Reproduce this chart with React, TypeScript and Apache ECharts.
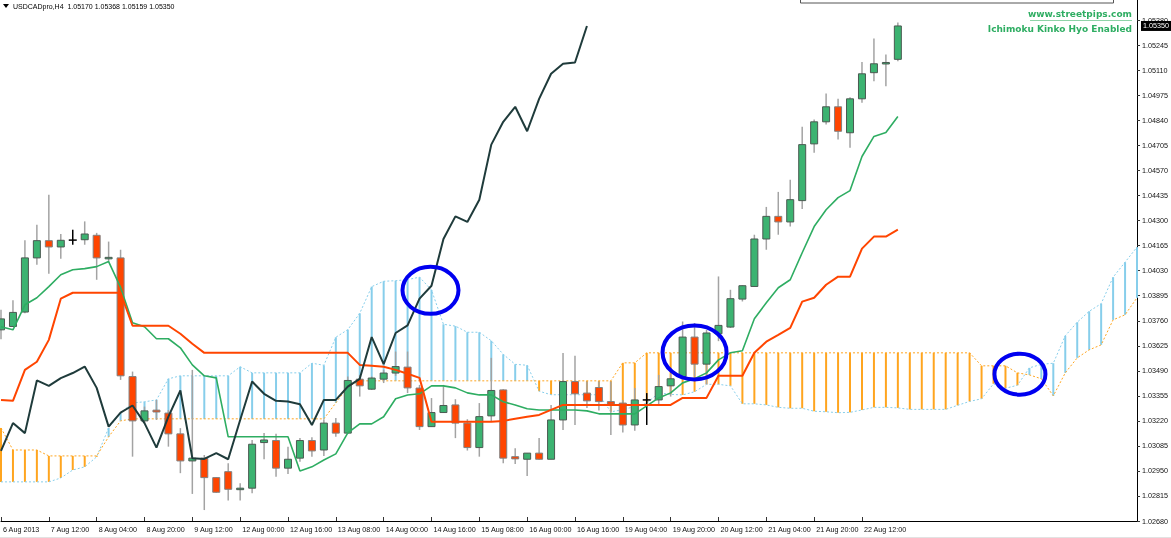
import React, { useEffect, useRef } from 'react';
import * as echarts from 'echarts';

// ---- Candles (H4 bars) ----
const opens = [1.03711,1.03729,1.03807,1.04099,1.04192,1.04158,1.04195,1.04197,1.04221,1.04100,
  1.04099,1.03459,1.03220,1.03278,1.03262,1.03150,1.03004,1.03019,1.02914,1.02946,
  1.02851,1.02857,1.03103,1.03114,1.02965,1.03019,1.03114,1.03063,1.03208,1.03154,
  1.03445,1.03391,1.03445,1.03478,1.03510,1.03397,1.03189,1.03265,1.03306,1.03208,
  1.03076,1.03247,1.03387,1.03027,1.03013,1.03046,1.03013,1.03225,1.03432,1.03370,
  1.03400,1.03324,1.03316,1.03198,1.03333,1.03333,1.03409,1.03459,1.03672,1.03526,
  1.03690,1.03726,1.03877,1.03945,1.04201,1.04323,1.04293,1.04408,1.04714,1.04833,
  1.04914,1.04774,1.04957,1.05098,1.05150,1.05170];
const highs = [1.03820,1.03870,1.04194,1.04278,1.04440,1.04228,1.04251,1.04296,1.04234,1.04187,
  1.04143,1.03486,1.03297,1.03333,1.03279,1.03181,1.03495,1.03036,1.02916,1.02992,
  1.02884,1.03117,1.03154,1.03150,1.03081,1.03127,1.03132,1.03229,1.03235,1.03459,
  1.03468,1.03459,1.03495,1.03594,1.03594,1.03414,1.03343,1.03414,1.03337,1.03229,
  1.03316,1.03560,1.03390,1.03073,1.03046,1.03127,1.03306,1.03586,1.03571,1.03432,
  1.03432,1.03432,1.03333,1.03397,1.03370,1.03468,1.03474,1.03756,1.03748,1.03711,
  1.03999,1.03927,1.03951,1.04224,1.04374,1.04455,1.04521,1.04806,1.04845,1.04986,
  1.04957,1.04966,1.05155,1.05283,1.05196,1.05368];
const lows = [1.03660,1.03728,1.03800,1.04062,1.04014,1.04095,1.04170,1.04170,1.03981,1.04079,
  1.03441,1.03027,1.03208,1.03225,1.03081,1.02938,1.02826,1.02739,1.02833,1.02790,
  1.02790,1.02830,1.03013,1.02919,1.02934,1.03000,1.03027,1.03031,1.03135,1.03150,
  1.03351,1.03387,1.03424,1.03463,1.03370,1.03171,1.03188,1.03263,1.03127,1.03060,
  1.03027,1.03216,1.02992,1.02988,1.02923,1.03010,1.03013,1.03171,1.03198,1.03289,
  1.03276,1.03144,1.03157,1.03167,1.03198,1.03306,1.03351,1.03441,1.03459,1.03418,
  1.03650,1.03721,1.03864,1.03945,1.04143,1.04224,1.04269,1.04363,1.04666,1.04818,
  1.04737,1.04693,1.04936,1.05052,1.05025,1.05159];
const closes = [1.03770,1.03805,1.04099,1.04192,1.04158,1.04194,1.04195,1.04228,1.04099,1.04102,
  1.03463,1.03220,1.03274,1.03268,1.03150,1.03004,1.03019,1.02914,1.02835,1.02851,
  1.02857,1.03094,1.03117,1.02965,1.03013,1.03114,1.03058,1.03208,1.03154,1.03438,
  1.03409,1.03451,1.03478,1.03513,1.03398,1.03189,1.03265,1.03303,1.03208,1.03076,
  1.03243,1.03384,1.03019,1.03015,1.03046,1.03013,1.03225,1.03432,1.03366,1.03328,
  1.03324,1.03310,1.03198,1.03333,1.03333,1.03405,1.03447,1.03672,1.03526,1.03694,
  1.03735,1.03879,1.03949,1.04201,1.04323,1.04293,1.04413,1.04710,1.04833,1.04914,
  1.04782,1.04957,1.05092,1.05146,1.05153,1.05350];

// ---- Ichimoku lines ----
const tenkan = [1.03728,1.03711,1.03846,1.03884,1.03944,1.04008,1.04035,1.04041,1.04052,1.04079,
  1.03940,1.03749,1.03728,1.03663,1.03663,1.03614,1.03522,1.03463,1.03452,1.03134,
  1.03134,1.03134,1.03134,1.03134,1.03134,1.02950,1.02972,1.03009,1.03042,1.03155,
  1.03204,1.03204,1.03242,1.03339,1.03360,1.03366,1.03409,1.03409,1.03398,1.03371,
  1.03360,1.03360,1.03323,1.03306,1.03285,1.03279,1.03279,1.03279,1.03279,1.03274,
  1.03258,1.03258,1.03258,1.03258,1.03301,1.03344,1.03371,1.03425,1.03447,1.03479,
  1.03549,1.03587,1.03598,1.03771,1.03857,1.03938,1.03981,1.04127,1.04268,1.04359,
  1.04424,1.04462,1.04646,1.04754,1.04775,1.04862];
const kijun = [1.03333,1.03328,1.03495,1.03539,1.03657,1.03879,1.03911,1.03911,1.03911,1.03911,
  1.03911,1.03733,1.03733,1.03733,1.03733,1.03690,1.03636,1.03587,1.03587,1.03587,
  1.03587,1.03587,1.03587,1.03587,1.03587,1.03587,1.03587,1.03587,1.03587,1.03587,
  1.03522,1.03517,1.03512,1.03495,1.03474,1.03452,1.03215,1.03215,1.03215,1.03215,
  1.03215,1.03215,1.03220,1.03231,1.03242,1.03252,1.03279,1.03306,1.03306,1.03306,
  1.03306,1.03306,1.03306,1.03306,1.03306,1.03306,1.03306,1.03344,1.03344,1.03344,
  1.03463,1.03463,1.03463,1.03587,1.03647,1.03684,1.03722,1.03863,1.03884,1.03954,
  1.03998,1.03998,1.04149,1.04214,1.04214,1.04251];
const chikou = [1.03058,1.03208,1.03154,1.03438,1.03409,1.03451,1.03478,1.03513,1.03398,1.03189,
  1.03265,1.03303,1.03208,1.03076,1.03243,1.03384,1.03019,1.03015,1.03046,1.03013,
  1.03225,1.03432,1.03366,1.03328,1.03324,1.03310,1.03198,1.03333,1.03333,1.03405,
  1.03447,1.03672,1.03526,1.03694,1.03735,1.03879,1.03949,1.04201,1.04323,1.04293,
  1.04413,1.04710,1.04833,1.04914,1.04782,1.04957,1.05092,1.05146,1.05153,1.05350];
const spanA = [1.02891,1.02891,1.02891,1.02891,1.02891,1.02912,1.02955,1.02972,1.03026,1.03182,
  1.03263,1.03317,1.03323,1.03333,1.03447,1.03463,1.03463,1.03463,1.03463,1.03463,
  1.03512,1.03479,1.03479,1.03479,1.03479,1.03479,1.03531,1.03520,1.03671,1.03712,
  1.03800,1.03944,1.03973,1.03976,1.03982,1.03995,1.03926,1.03741,1.03731,1.03698,
  1.03698,1.03652,1.03579,1.03525,1.03520,1.03380,1.03361,1.03361,1.03361,1.03361,
  1.03361,1.03269,1.03280,1.03298,1.03315,1.03371,1.03363,1.03360,1.03377,1.03417,
  1.03417,1.03409,1.03312,1.03312,1.03306,1.03293,1.03288,1.03288,1.03272,1.03269,
  1.03264,1.03266,1.03279,1.03293,1.03293,1.03290,1.03282,1.03282,1.03282,1.03282,
  1.03304,1.03325,1.03339,1.03420,1.03396,1.03412,1.03506,1.03525,1.03531,1.03679,
  1.03752,1.03811,1.03852,1.03995,1.04076,1.04157];
const spanB = [1.03182,1.03063,1.03063,1.03063,1.03031,1.03031,1.03031,1.03031,1.03031,1.03134,
  1.03220,1.03231,1.03231,1.03231,1.03231,1.03231,1.03231,1.03231,1.03231,1.03231,
  1.03231,1.03231,1.03231,1.03231,1.03231,1.03231,1.03231,1.03231,1.03317,1.03404,
  1.03436,1.03436,1.03436,1.03436,1.03436,1.03436,1.03436,1.03436,1.03436,1.03436,
  1.03436,1.03436,1.03436,1.03436,1.03436,1.03436,1.03436,1.03436,1.03436,1.03436,
  1.03436,1.03436,1.03533,1.03533,1.03587,1.03587,1.03587,1.03587,1.03587,1.03587,
  1.03587,1.03587,1.03587,1.03587,1.03587,1.03587,1.03587,1.03587,1.03587,1.03587,
  1.03587,1.03587,1.03587,1.03587,1.03587,1.03587,1.03587,1.03587,1.03587,1.03587,
  1.03587,1.03587,1.03517,1.03517,1.03517,1.03479,1.03468,1.03447,1.03355,1.03479,
  1.03560,1.03603,1.03630,1.03765,1.03792,1.03884];

// ---- Axes ----
const xTickLabels = ['6 Aug 2013','7 Aug 12:00','8 Aug 04:00','8 Aug 20:00','9 Aug 12:00','12 Aug 00:00',
  '12 Aug 16:00','13 Aug 08:00','14 Aug 00:00','14 Aug 16:00','15 Aug 08:00','16 Aug 00:00',
  '16 Aug 16:00','19 Aug 04:00','19 Aug 20:00','20 Aug 12:00','21 Aug 04:00','21 Aug 20:00','22 Aug 12:00'];
const yTickValues = [1.02680,1.02815,1.02950,1.03085,1.03220,1.03355,1.03490,1.03625,1.03760,1.03895,
  1.04030,1.04165,1.04300,1.04435,1.04570,1.04705,1.04840,1.04975,1.05110,1.05245,1.05380];
const TOTAL_BARS = 96;
const LABEL_STEP = 4;
const titleText = 'USDCADpro,H4  1.05170 1.05368 1.05159 1.05350';
// annotation circles: [bar index, price, pixel dx, rx, ry]
const circles = [[36, 1.03924, -1, 28, 23.5], [58, 1.03589, 0, 32, 27], [85, 1.03472, 2.5, 25.5, 20.5]];

const FONT = "'Liberation Sans', Arial, sans-serif";

export default function App() {
  const ref = useRef<HTMLDivElement>(null);
  useEffect(() => {
    const chart = echarts.init(ref.current!, null, { renderer: 'svg' });
    const categories = Array.from({ length: TOTAL_BARS }, (_, i) => String(i));
    const candleData = opens.map((o, i) => [i, o, closes[i], lows[i], highs[i]]);
    const cloudData = spanA.map((a, i) => [i, a, spanB[i]]);
    const showIdx = (idx: number) => idx % LABEL_STEP === 0 && idx / LABEL_STEP < xTickLabels.length;

    const option: any = {
      animation: false,
      textStyle: { fontFamily: FONT },
      grid: { left: 0, right: 31, top: 0, bottom: 17, containLabel: false },
      xAxis: {
        type: 'category',
        data: categories,
        boundaryGap: false,
        axisLine: { show: true, lineStyle: { color: '#000', width: 1 } },
        axisTick: { show: true, inside: true, length: 4, interval: (i: number) => showIdx(i), lineStyle: { color: '#333' } },
        axisLabel: {
          show: true,
          interval: (i: number) => showIdx(i),
          formatter: (_v: string, i: number) => xTickLabels[i / LABEL_STEP] ?? '',
          align: 'left',
          fontSize: 7.2,
          color: '#111',
          margin: 5,
          padding: [0, 0, 0, 2],
          showMinLabel: true,
          showMaxLabel: true,
          hideOverlap: false,
        },
        splitLine: { show: false },
      },
      yAxis: {
        type: 'value',
        position: 'right',
        min: 1.0268,
        max: 1.0549,
        scale: true,
        axisLine: { show: true, lineStyle: { color: '#000', width: 1 } },
        axisTick: { show: true, length: 3, customValues: yTickValues, lineStyle: { color: '#333' } },
        axisLabel: {
          customValues: yTickValues,
          formatter: (v: number) => v.toFixed(5),
          fontSize: 7.2,
          color: '#111',
          margin: 5,
        },
        splitLine: { show: false },
      },
      series: [
        {
          type: 'custom',
          name: 'cloud',
          z: 1,
          data: cloudData,
          encode: { x: 0, y: [1, 2] },
          renderItem: (_p: any, api: any) => {
            const i = api.value(0), a = api.value(1), b = api.value(2);
            const pa = api.coord([i, a]);
            const pb = api.coord([i, b]);
            return {
              type: 'line',
              shape: { x1: pa[0], y1: pa[1], x2: pb[0], y2: pb[1] },
              style: { stroke: a >= b ? '#87CEEB' : '#FFA51F', lineWidth: 2 },
            };
          },
        },
        {
          type: 'line', name: 'Senkou A', data: spanA, z: 2, symbol: 'none',
          lineStyle: { color: '#87CEEB', width: 1, type: [2, 2] },
        },
        {
          type: 'line', name: 'Senkou B', data: spanB, z: 2, symbol: 'none',
          lineStyle: { color: '#FFA51F', width: 1, type: [2, 2] },
        },
        {
          type: 'custom',
          name: 'candles',
          z: 3,
          data: candleData,
          encode: { x: 0, y: [1, 2, 3, 4] },
          renderItem: (_p: any, api: any) => {
            const i = api.value(0);
            const o = api.value(1), c = api.value(2), l = api.value(3), h = api.value(4);
            const pO = api.coord([i, o]);
            const x = pO[0];
            const yO = pO[1];
            const yC = api.coord([i, c])[1];
            const yL = api.coord([i, l])[1];
            const yH = api.coord([i, h])[1];
            const doji = Math.abs(o - c) < 0.000005;
            const children: any[] = [
              { type: 'line', shape: { x1: x, y1: yH, x2: x, y2: yL }, style: { stroke: doji ? '#000' : '#a3a3a3', lineWidth: 1.5 } },
            ];
            if (doji) {
              children.push({ type: 'line', shape: { x1: x - 4, y1: yO, x2: x + 4, y2: yO }, style: { stroke: '#000', lineWidth: 1.5 } });
            } else {
              const up = c > o;
              const top = Math.min(yO, yC);
              const hgt = Math.max(Math.abs(yO - yC), 1.5);
              children.push({
                type: 'rect',
                shape: { x: x - 3.5, y: top, width: 7, height: hgt },
                style: { fill: up ? '#3CB371' : '#FF4500', stroke: up ? '#4b5a52' : '#808080', lineWidth: 1 },
              });
            }
            return { type: 'group', children };
          },
        },
        {
          type: 'line', name: 'Tenkan', data: tenkan, z: 4, symbol: 'none',
          lineStyle: { color: '#2EAD62', width: 1.6 },
        },
        {
          type: 'line', name: 'Kijun', data: kijun, z: 4, symbol: 'none',
          lineStyle: { color: '#FF4500', width: 2 },
        },
        {
          type: 'line', name: 'Chikou', data: chikou, z: 4, symbol: 'none',
          lineStyle: { color: '#1F3B3B', width: 2 },
        },
      ],
    };
    chart.setOption(option);

    const lastClose = closes[closes.length - 1];
    const yLast = chart.convertToPixel({ yAxisIndex: 0 }, lastClose) as number;
    const graphics: any[] = [
      { type: 'polygon', shape: { points: [[3, 4], [9, 4], [6, 8]] }, style: { fill: '#000' } },
      { type: 'text', x: 13, y: 6, style: { text: titleText, fontSize: 7, fontFamily: FONT, fill: '#000', verticalAlign: 'middle' } },
      { type: 'rect', shape: { x: 800.5, y: -6, width: 313, height: 9 }, style: { fill: '#fff', stroke: '#555', lineWidth: 1 } },
      { type: 'text', x: 1132, y: 14, style: { text: 'www.streetpips.com', fontSize: 9, fontWeight: 'bold', fontFamily: "'DejaVu Sans', Verdana, sans-serif", fill: '#2EAD62', align: 'right', verticalAlign: 'middle' } },
      { type: 'line', shape: { x1: 1030, y1: 20.5, x2: 1132, y2: 20.5 }, style: { stroke: '#8fd3a8', lineWidth: 1 } },
      { type: 'text', x: 1132, y: 29, style: { text: 'Ichimoku Kinko Hyo Enabled', fontSize: 9, fontWeight: 'bold', fontFamily: "'DejaVu Sans', Verdana, sans-serif", fill: '#2EAD62', align: 'right', verticalAlign: 'middle' } },
      { type: 'rect', z: 50, shape: { x: 1141, y: yLast - 5, width: 30, height: 10 }, style: { fill: '#000' } },
      { type: 'text', z: 51, x: 1156, y: yLast, style: { text: lastClose.toFixed(5), fontSize: 7.2, fontFamily: FONT, fill: '#fff', align: 'center', verticalAlign: 'middle' } },
      { type: 'line', shape: { x1: 0, y1: 537.5, x2: 1171, y2: 537.5 }, style: { stroke: '#e2e2e2', lineWidth: 1 } },
    ];
    circles.forEach(([bar, price, dx, rx, ry]) => {
      const p = chart.convertToPixel({ xAxisIndex: 0, yAxisIndex: 0 }, [bar, price]) as number[];
      graphics.push({
        type: 'ellipse', z: 100,
        shape: { cx: p[0] + dx, cy: p[1], rx, ry },
        style: { fill: 'none', stroke: '#0000F0', lineWidth: 4 },
      });
    });
    chart.setOption({ graphic: graphics });

    return () => chart.dispose();
  }, []);
  return <div ref={ref} style={{ position: 'fixed', left: 0, top: 0, width: 1171, height: 538 }} />;
}
